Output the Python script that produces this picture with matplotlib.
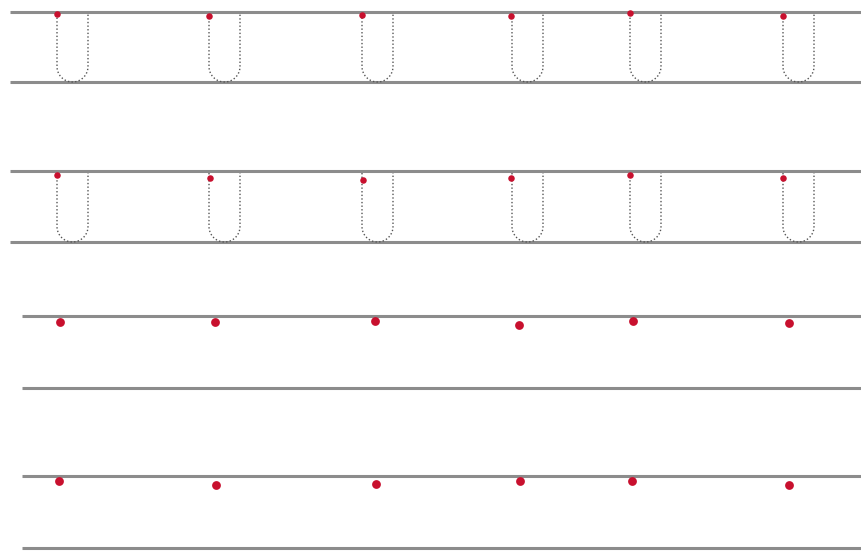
import numpy as np
import matplotlib.pyplot as plt

# guide lines per row: (top y, bottom y, left x) in pixel units
row_top = [12, 171, 316, 476]
row_bottom = [82, 242, 388, 548]
row_left = [10, 10, 22, 22]

# traced letter "u" positions (left stroke x) for the first two rows
u_left = [57, 209, 362, 512, 630, 783]
u_width = 31

# red starting dots, per row
dot_x = [
    [57, 209, 362, 511, 630, 783],
    [57, 210, 363, 511, 630, 783],
    [60, 215, 375, 519, 633, 789],
    [59, 216, 376, 520, 632, 789],
]
dot_y = [
    [14, 16, 15, 16, 13, 16],
    [175, 178, 180, 178, 175, 178],
    [322, 322, 321, 325, 321, 323],
    [481, 485, 484, 481, 481, 485],
]
dot_size = [22, 22, 40, 40]

fig = plt.figure(figsize=(8.62, 5.52), dpi=100)
ax = fig.add_axes([0, 0, 1, 1])
ax.set_xlim(0, 862)
ax.set_ylim(552, 0)
ax.axis("off")

for top, bot, left in zip(row_top, row_bottom, row_left):
    ax.plot([left, 862], [top, top], color="#8c8c8c", lw=2.2, solid_capstyle="butt")
    ax.plot([left, 862], [bot, bot], color="#8c8c8c", lw=2.2, solid_capstyle="butt")

# dotted u outlines in rows 1 and 2
for r in range(2):
    top, bot = row_top[r], row_bottom[r]
    rad = u_width / 2
    for x0 in u_left:
        cx = x0 + rad
        cy = bot - rad
        th = np.linspace(np.pi, 2 * np.pi, 40)
        xs = np.concatenate([[x0, x0], cx + rad * np.cos(th), [x0 + u_width, x0 + u_width]])
        ys = np.concatenate([[top + 2, cy], cy - rad * np.sin(th), [cy, top + 2]])
        ax.plot(xs, ys, color="#555555", lw=1.0, linestyle=(0, (1, 1.6)))

for r in range(4):
    ax.scatter(dot_x[r], dot_y[r], s=dot_size[r], color="#c8102e", zorder=3, linewidths=0)

fig.savefig("out.png", dpi=100)
